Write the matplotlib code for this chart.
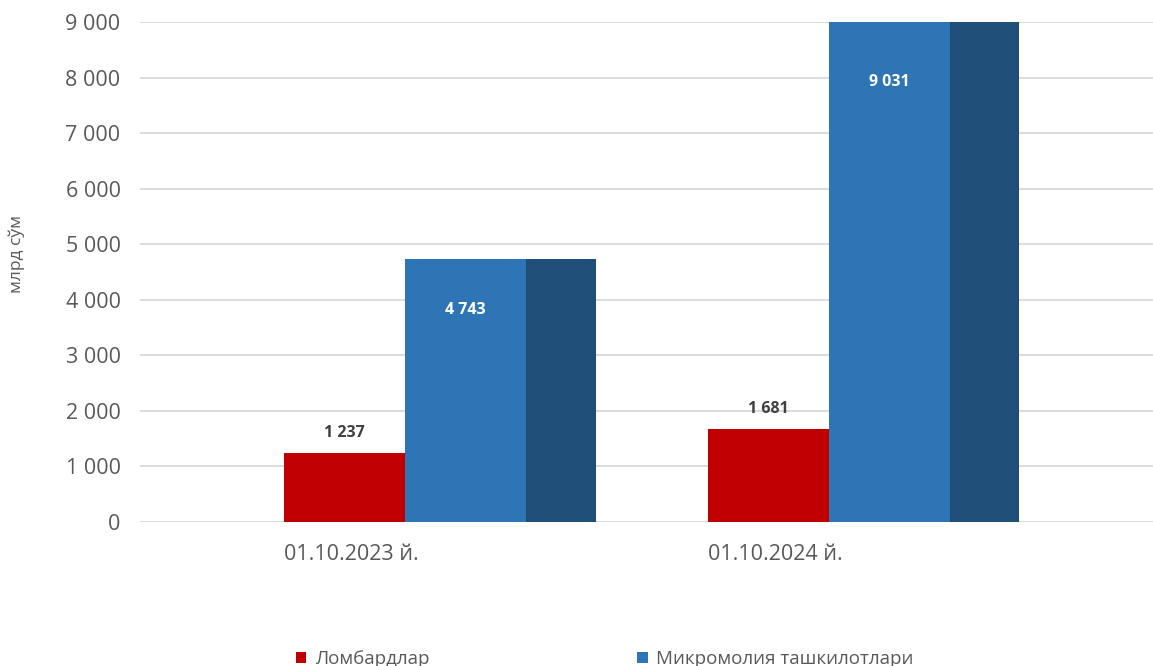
import matplotlib.pyplot as plt
from matplotlib.ticker import FuncFormatter
import numpy as np

plt.rcParams['font.family'] = ['Open Sans', 'DejaVu Sans']

# chart data
categories = ["01.10.2023 й.", "01.10.2024 й."]
lombards = [1237, 1681]
micro_orgs = [4743, 9031]
micro_other = [4743, 9031]
series_names = ["Ломбардлар", "Микромолия ташкилотлари"]
y_ticks = [0, 1000, 2000, 3000, 4000, 5000, 6000, 7000, 8000, 9000]

RED = "#C00000"
BLUE = "#2E75B6"
DARK = "#1F4E79"
GRID = "#D9D9D9"
TEXT = "#595959"


def thousands(v, pos=None):
    return f"{int(v):,}".replace(",", " ")


fig = plt.figure(figsize=(11.53, 6.66), dpi=100)
ax = fig.add_axes([140 / 1153, 1 - 522 / 666, 1 - 140 / 1153, 500 / 666])

x = np.arange(len(categories))
w_main = 0.285
w_dark = 0.165

b1 = ax.bar(x, lombards, w_main, align='edge', color=RED, label=series_names[0], zorder=3)
b2 = ax.bar(x + w_main, micro_orgs, w_main, align='edge', color=BLUE,
            label=series_names[1], zorder=3)
b3 = ax.bar(x + 2 * w_main, micro_other, w_dark, align='edge', color=DARK, zorder=3)

ax.set_xlim(-0.34, 2.05)
ax.set_ylim(0, y_ticks[-1])
ax.set_yticks(y_ticks)
ax.yaxis.set_major_formatter(FuncFormatter(thousands))
ax.tick_params(axis='y', length=0, pad=14, labelsize=15.5, labelcolor=TEXT)
ax.set_xticks(x)
ax.set_xticklabels(categories, ha='left')
ax.tick_params(axis='x', length=0, pad=15.5, labelsize=15.5, labelcolor=TEXT)

ax.grid(axis='y', color=GRID, linewidth=1.3, zorder=0)
for s in ax.spines.values():
    s.set_visible(False)

# data labels
for rect, v in zip(b1, lombards):
    ax.annotate(thousands(v), (rect.get_x() + rect.get_width() / 2, v),
                xytext=(0, 11.5), textcoords='offset points', ha='center',
                va='baseline', fontsize=11.5, fontweight='bold', color="#404040")

ymax = ax.get_ylim()[1]
inside_off = [40, 46]
for rect, v, off in zip(b2, micro_orgs, inside_off):
    ax.annotate(thousands(v), (rect.get_x() + rect.get_width() / 2, min(v, ymax)),
                xytext=(0, -off), textcoords='offset points', ha='center',
                va='baseline', fontsize=11.5, fontweight='bold', color="white")

fig.text(17 / 1153, 1 - 254 / 666, "млрд сўм", rotation=90, ha='center',
         va='center', fontsize=12.5, color=TEXT)

fig.legend(handles=[b1, b2], loc='upper left', bbox_to_anchor=(296 / 1153, 1 - 650 / 666),
           ncol=2, frameon=False, fontsize=13.5, handlelength=0.55, handleheight=0.55,
           handletextpad=0.45, columnspacing=11.1, borderpad=0, borderaxespad=0,
           labelcolor=TEXT)

fig.savefig("out.png", dpi=100)
